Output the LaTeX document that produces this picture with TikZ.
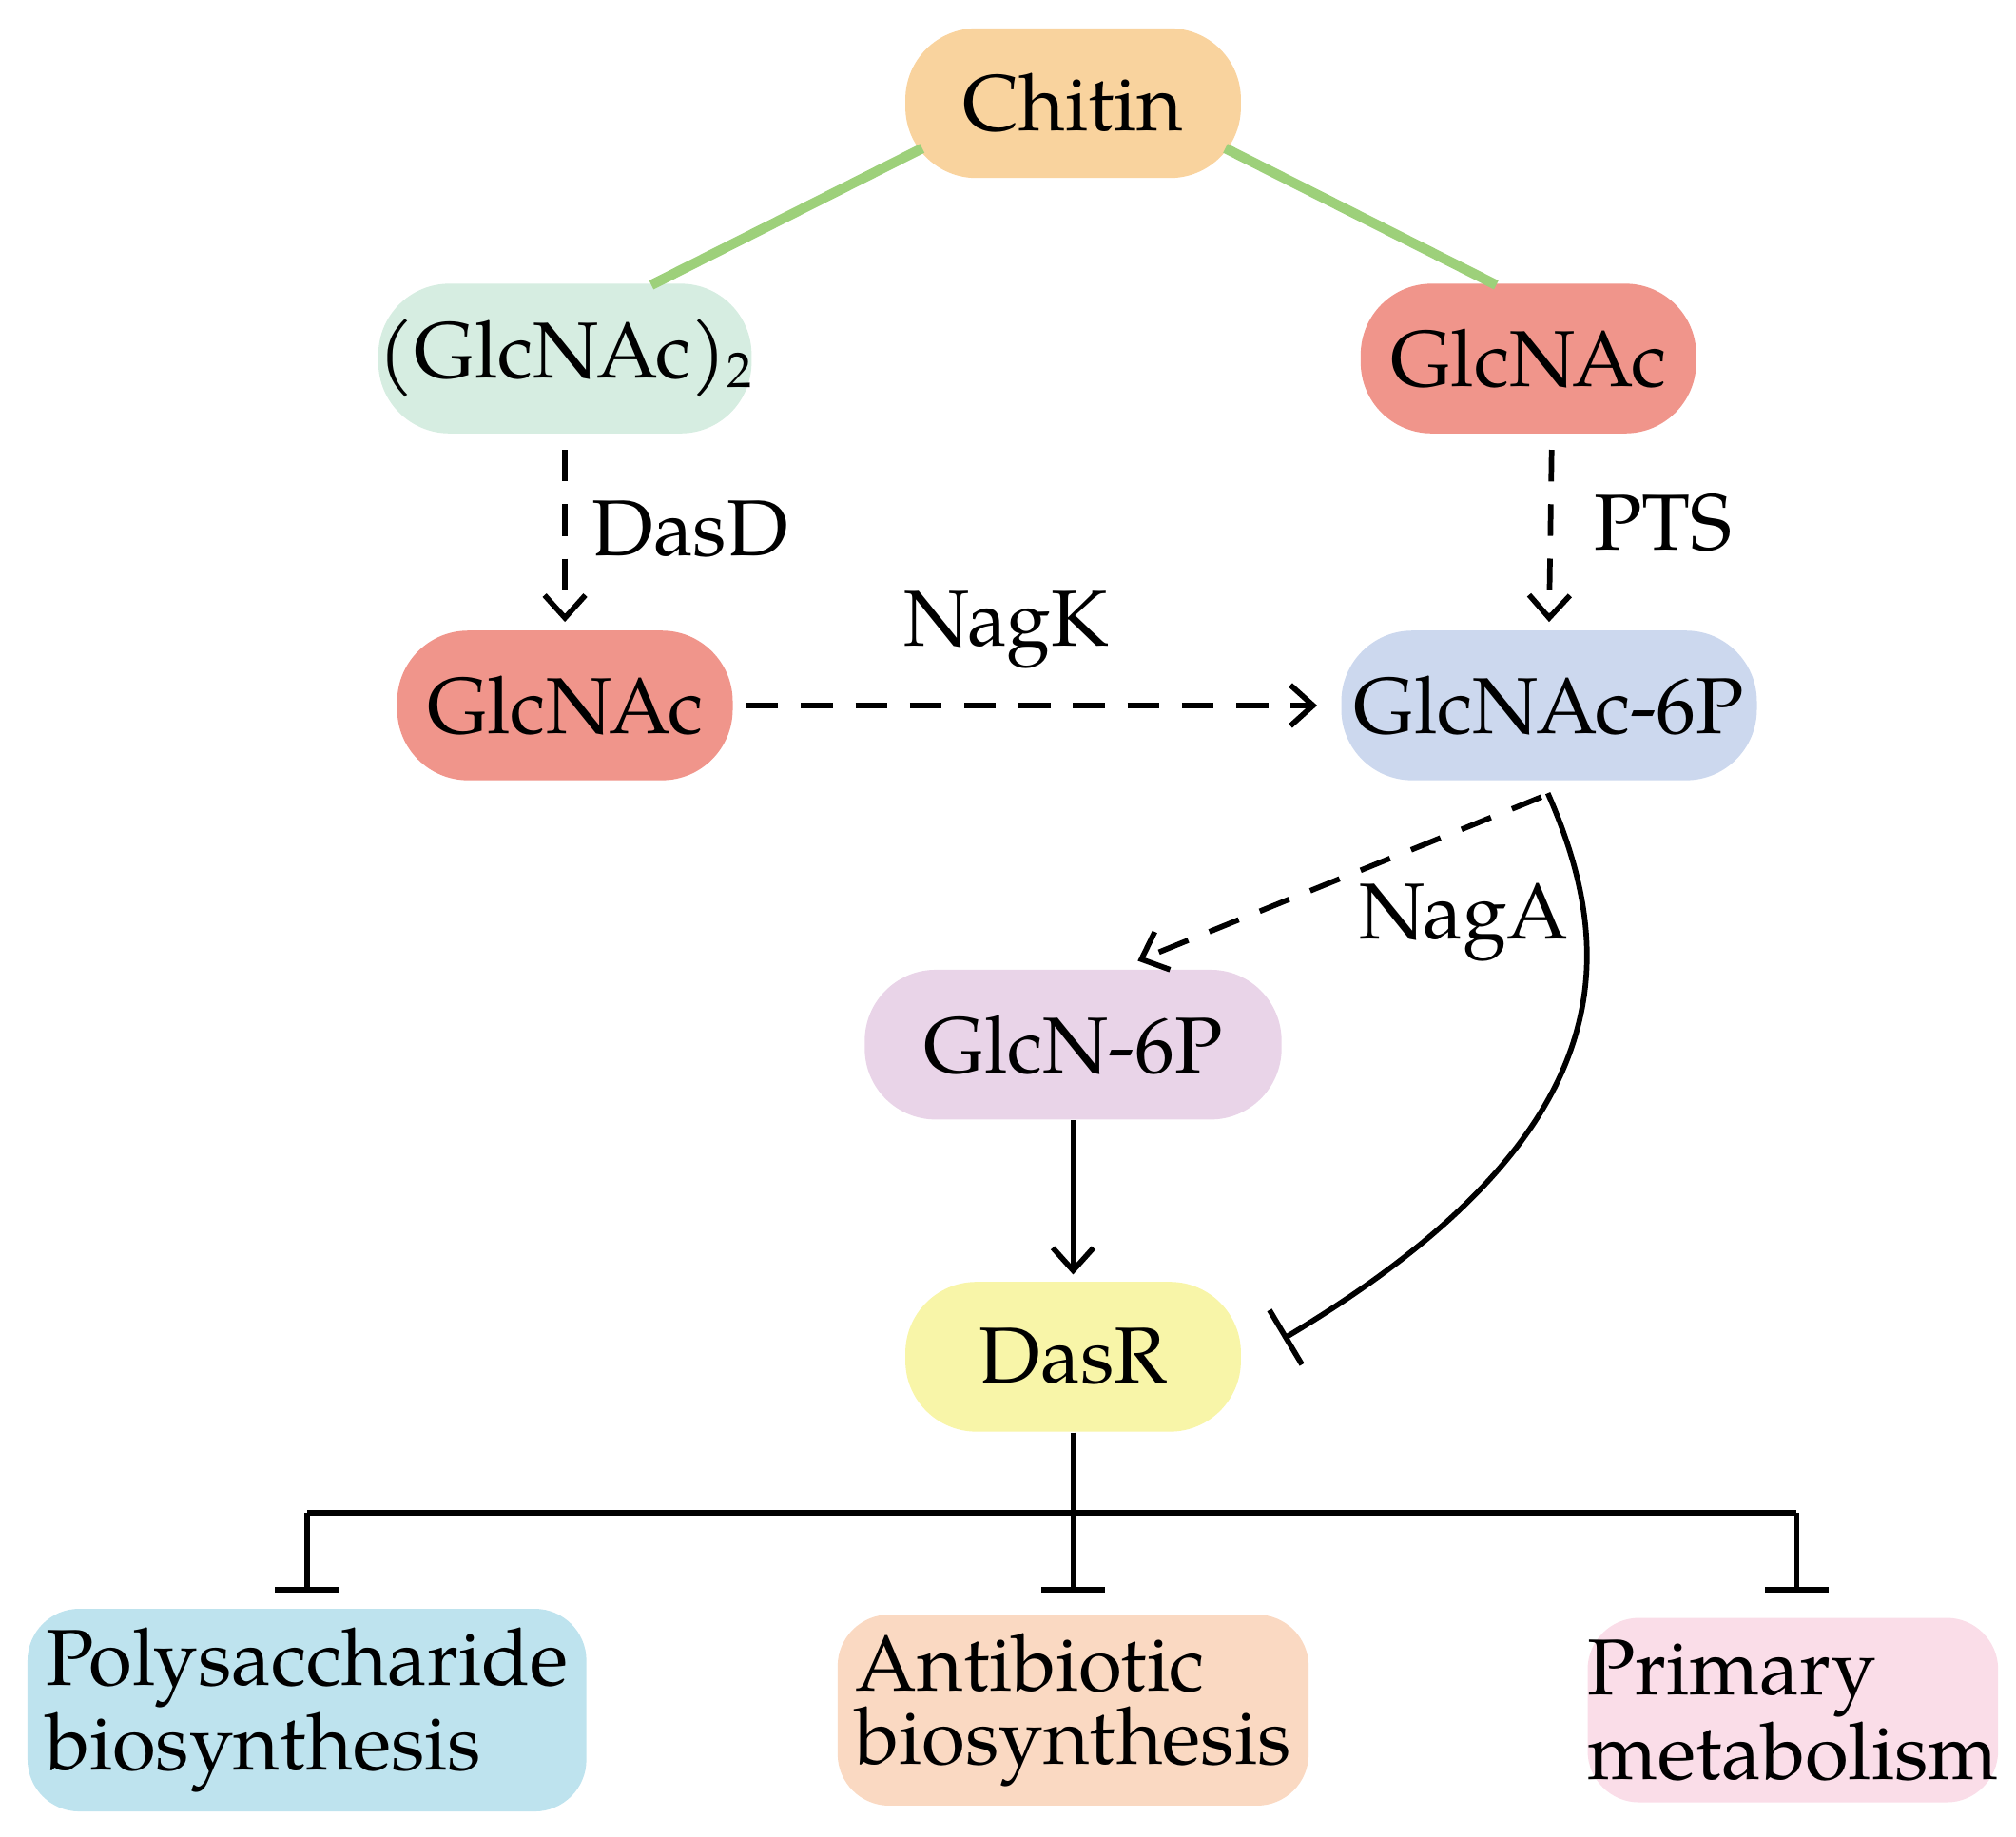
\documentclass[tikz,border=0pt]{standalone}
\usepackage{fontspec}
\setmainfont{TeX Gyre Pagella}
\usetikzlibrary{arrows.meta}
\definecolor{cOr}{HTML}{F9D39E}
\definecolor{cGr}{HTML}{D6EDE1}
\definecolor{cSa}{HTML}{F0958B}
\definecolor{cBl}{HTML}{CCD8EE}
\definecolor{cPu}{HTML}{E9D4E8}
\definecolor{cYe}{HTML}{F8F5A8}
\definecolor{cCy}{HTML}{BEE3EE}
\definecolor{cPe}{HTML}{FAD9C2}
\definecolor{cPk}{HTML}{FADDE8}
\definecolor{cLn}{HTML}{9DD07A}
\begin{document}
\begin{tikzpicture}[x=0.01cm,y=-0.01cm,
  pill/.style={rounded corners=0.55cm,minimum height=1.16cm,font=\fontsize{17.5}{18}\selectfont,inner sep=0pt},
  box/.style={rounded corners=0.4cm,align=left,font=\fontsize{17.5}{16}\selectfont,inner sep=0pt},
  ln/.style={line width=1.2pt},
  dsh/.style={ln,dashed,dash pattern=on 7pt off 5pt,-{Straight Barb[length=5pt,width=9pt]}},
  lab/.style={font=\fontsize{17.5}{18}\selectfont}]
\useasboundingbox (0,0) rectangle (1563,1424);
\node[pill,fill=cOr,minimum width=2.6cm] (chitin) at (832,80) {Chitin};
\node[pill,fill=cGr,minimum width=2.6cm] (di) at (438,278) {(GlcNAc)\raisebox{-0.25ex}{\fontsize{11}{11}\selectfont 2}};
\node[pill,fill=cSa,minimum width=2.6cm] (gr) at (1185,278) {GlcNAc};
\node[pill,fill=cSa,minimum width=2.6cm] (gl) at (438,547) {GlcNAc};
\node[pill,fill=cBl,minimum width=3.22cm] (g6) at (1201,547) {GlcNAc-6P};
\node[pill,fill=cPu,minimum width=3.23cm] (n6) at (832,810) {GlcN-6P};
\node[pill,fill=cYe,minimum width=2.6cm] (dasr) at (832,1052) {DasR};
\node[box,fill=cCy,minimum width=4.33cm,minimum height=1.57cm] (poly) at (238,1326) {Polysaccharide\\biosynthesis};
\node[box,fill=cPe,minimum width=3.65cm,minimum height=1.48cm] (anti) at (832,1326) {Antibiotic\\biosynthesis};
\node[box,fill=cPk,minimum width=3.16cm,minimum height=1.43cm] (prim) at (1390,1326) {Primary\\metabolism};
\coordinate (c1) at (715,115);
\coordinate (c2) at (505,221);
\coordinate (c3) at (950,115);
\coordinate (c4) at (1160,221);
\draw[cLn,line width=2.2pt] (c1) -- (c2);
\draw[cLn,line width=2.2pt] (c3) -- (c4);
\draw[dsh] ([yshift=-0.12cm]di.south) -- ([yshift=0.06cm]gl.north) node[lab,midway,right=2pt,yshift=0.05cm] {DasD};
\draw[dsh] ([xshift=0.18cm,yshift=-0.12cm]gr.south) -- ([yshift=0.06cm]g6.north) node[lab,midway,right=0.2cm,yshift=0.1cm] {PTS};
\draw[dsh] ([xshift=0.1cm]gl.east) -- ([xshift=-0.18cm]g6.east -| g6.west) node[lab,midway,above=0.15cm,xshift=-0.2cm] {NagK};
\coordinate (ga) at (1195,618);
\coordinate (gb) at (882,745);
\draw[dsh] (ga) -- (gb);
\node[lab] (nagA) at (1135,715) {NagA};
\coordinate (cs) at (1200,615);
\coordinate (ce) at (995,1038);
\draw[ln,-{Bar[width=14pt]}] (cs) .. controls (1255,740) and (1260,880) .. (ce);
\draw[ln,-{Straight Barb[length=5pt,width=9pt]}] (n6.south) -- ([yshift=0.05cm]dasr.north);
\coordinate (j) at (832,1173);
\coordinate (jl) at (238,1173);
\coordinate (jr) at (1393,1173);
\draw[ln] (dasr.south) -- (j);
\draw[ln] (jl) -- (jr);
\draw[ln,-{Bar[width=14pt]}] (jl) -- (238,1235);
\draw[ln,-{Bar[width=14pt]}] (j) -- (832,1235);
\draw[ln,-{Bar[width=14pt]}] (jr) -- (1393,1235);
\end{tikzpicture}
\end{document}
